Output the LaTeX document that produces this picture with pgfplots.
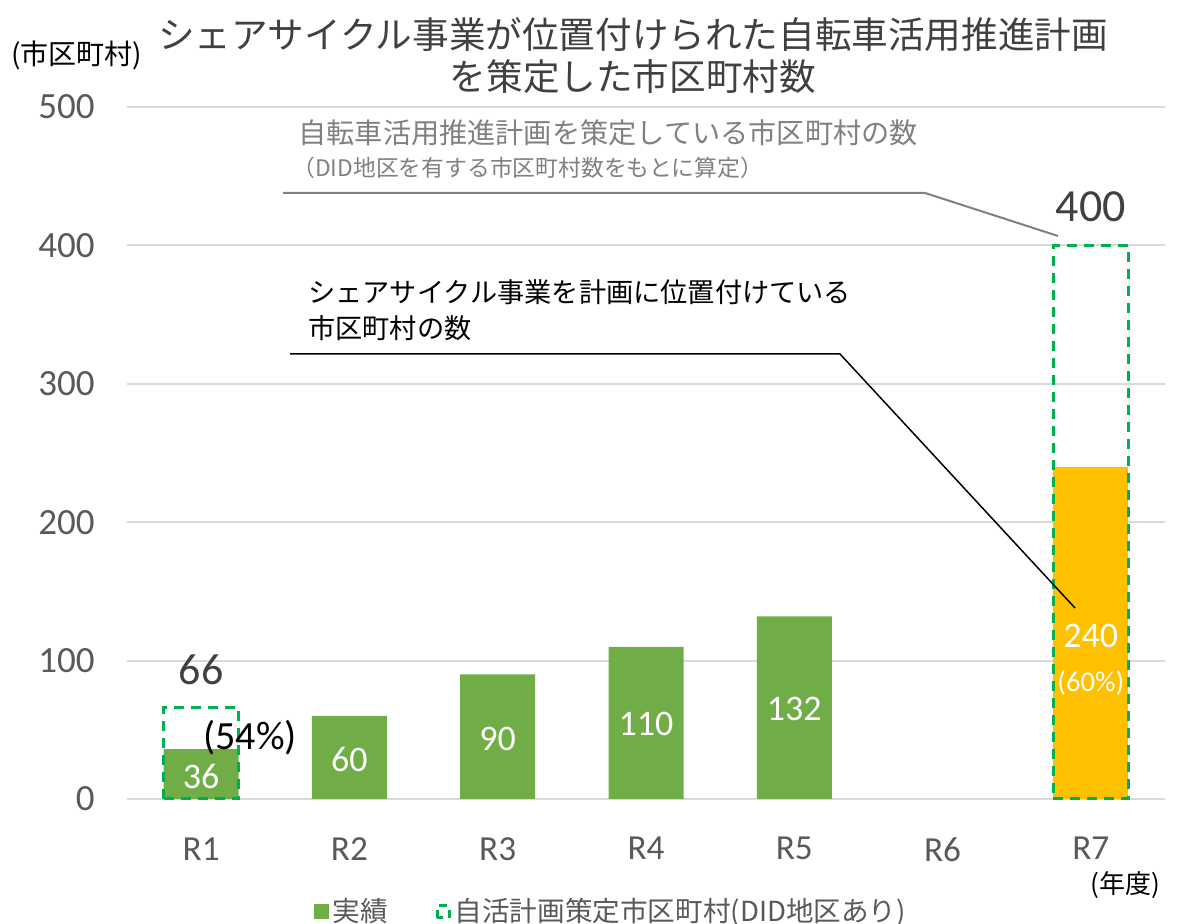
\documentclass[border=0pt]{standalone}
\usepackage{pgfplots}
\pgfplotsset{compat=1.18}
\usepackage{fontspec}
\setmainfont{Carlito}
\newfontfamily\jp{Noto Sans CJK JP}
\definecolor{barg}{HTML}{70AD47}
\definecolor{bary}{HTML}{FFC000}
\definecolor{dashg}{HTML}{00B050}
\definecolor{gridc}{HTML}{D9D9D9}
\definecolor{tickc}{HTML}{595959}
\definecolor{titlec}{HTML}{404040}
\definecolor{annc}{HTML}{808080}
\begin{document}
\begin{tikzpicture}
\begin{axis}[
  at={(0pt,0pt)}, anchor=south west,
  scale only axis, width=519pt, height=346pt,
  xmin=-0.5, xmax=6.5, ymin=0, ymax=500,
  clip=false,
  axis line style={draw=none},
  major tick length=0pt,
  ymajorgrids, grid style={gridc, line width=1pt},
  ytick={0,100,200,300,400,500},
  xtick={0,1,2,3,4,5,6},
  xticklabels={R1,R2,R3,R4,R5,R6,R7},
  /pgf/number format/assume math mode=true,
  yticklabel style={font=\fontsize{18.5}{20}\selectfont, text=tickc, anchor=east, inner sep=0pt, xshift=-16pt},
  xticklabel style={font=\fontsize{17.6}{20}\selectfont, text=tickc, anchor=north, inner sep=0pt, yshift=-19pt},
  legend style={at={(0.467,-0.163)}, anchor=center, draw=none, fill=none,
    font=\jp\fontsize{13.8}{15}\selectfont, text=tickc, inner sep=0pt,
    /tikz/every even column/.append style={column sep=22pt}},
  legend columns=2,
]
% actual results
\addplot[ybar, bar width=37.5pt, bar shift=0pt, fill=barg, draw=none,
  legend image code/.code={\fill[barg] (0pt,-3.75pt) rectangle (7.5pt,3.75pt);}]
  coordinates {(0,36) (1,60) (2,90) (3,110) (4,132)};
\addlegendentry{実績}
% R7 target
\addplot[ybar, bar width=37.5pt, bar shift=0pt, fill=bary, draw=none, forget plot]
  coordinates {(6,240)};
% plans (dashed)
\addplot[ybar, bar width=37.5pt, bar shift=0pt, fill=none, draw=dashg, line width=1.5pt,
  dash pattern=on 5pt off 3.5pt,
  legend image code/.code={\draw[dashg, line width=1.5pt, dash pattern=on 4pt off 3pt] (0.75pt,-3pt) rectangle (6.75pt,3pt);}]
  coordinates {(0,66) (6,400)};
\addlegendentry{自活計画策定市区町村(DID地区あり)}
% in-bar labels
\addplot[draw=none, mark=none, forget plot, point meta=explicit symbolic,
  nodes near coords,
  every node near coord/.append style={anchor=center, font=\fontsize{18}{20}\selectfont, text=white, inner sep=0pt}]
  table[meta=lab, row sep=\\] {x y lab\\ 0 16.6 36\\ 1 28.9 60\\ 2 43.4 90\\ 3 54.2 110\\ 4 65.0 132\\ 6 117.8 240\\};
\node[font=\fontsize{14.3}{16}\selectfont, text=white, inner sep=0pt] at (axis cs:6,83.8) {(60\%)};
\node[font=\fontsize{22}{24}\selectfont, text=titlec, inner sep=0pt] at (axis cs:0,93.2) {66};
\node[font=\fontsize{20}{22}\selectfont, text=black, inner sep=0pt] at (axis cs:0.33,44.1) {(54\%)};
\node[font=\fontsize{23}{25}\selectfont, text=titlec, inner sep=0pt] at (axis cs:6,427.7) {400};
\end{axis}
\begin{scope}[x=0.5pt,y=-0.5pt,shift={(-63.5pt,399.5pt)}]
\node[font=\jp\fontsize{18.3}{21}\selectfont, text=titlec, align=center, inner sep=0pt] at (633,56)
  {シェアサイクル事業が位置付けられた自転車活用推進計画\\を策定した市区町村数};
\node[font=\jp\fontsize{14}{16}\selectfont, text=black, inner sep=0pt] at (77,55) {(市区町村)};
\node[font=\jp\fontsize{14.1}{16}\selectfont, text=annc, anchor=west, inner sep=0pt] at (298,133)
  {自転車活用推進計画を策定している市区町村の数};
\node[font=\jp\fontsize{11.4}{13}\selectfont, text=annc, anchor=west, inner sep=0pt] at (292,168)
  {（DID地区を有する市区町村数をもとに算定）};
\draw[annc, line width=1pt] (283,193) -- (925,193) -- (1058,236);
\node[font=\jp\fontsize{13.6}{16}\selectfont, text=black, anchor=west, inner sep=0pt] at (308,292)
  {シェアサイクル事業を計画に位置付けている};
\node[font=\jp\fontsize{13.6}{16}\selectfont, text=black, anchor=west, inner sep=0pt] at (308,328)
  {市区町村の数};
\draw[black, line width=0.75pt] (290,354) -- (840,354) -- (1075,608);
\node[font=\jp\fontsize{13}{15}\selectfont, text=black, inner sep=0pt] at (1125,885) {(年度)};
\end{scope}
\pgfresetboundingbox
\path[use as bounding box] (-63.5pt,-62.5pt) rectangle (529pt,399.5pt);
\end{tikzpicture}
\end{document}
